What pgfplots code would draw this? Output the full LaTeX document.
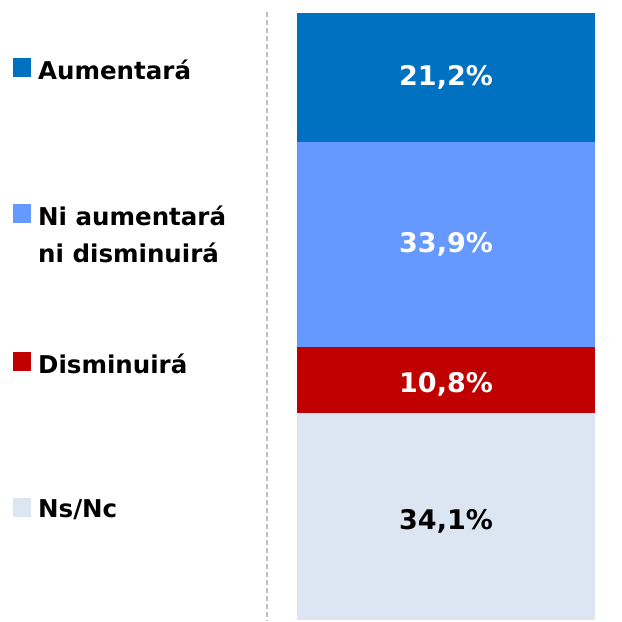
\documentclass[border=0pt]{standalone}
\usepackage{fontspec}
\setmainfont{DejaVu Sans}
\usepackage{pgfplots}
\pgfplotsset{compat=1.18}
\definecolor{aumC}{HTML}{0070C0}
\definecolor{niC}{HTML}{6699FF}
\definecolor{disC}{HTML}{C00000}
\definecolor{nsC}{HTML}{DCE6F2}
\begin{document}
\begin{tikzpicture}[x=1pt,y=1pt]
\path[use as bounding box] (0,0) rectangle (622,-622);
% separator
\draw[black!25, line width=1.6pt, dash pattern=on 5pt off 3pt] (267,-12) -- (267,-621);
\begin{axis}[
    at={(297pt,-620pt)}, anchor=south west,
    scale only axis, width=298pt, height=607pt,
    xmin=0, xmax=1, ymin=0, ymax=100,
    hide axis, clip=false,
    ybar stacked, bar width=1,
    nodes near coords style={font=\bfseries\fontsize{27}{30}\selectfont, anchor=center},
  ]
  % stacked labels come out centred in each segment
  \addplot[fill=nsC, draw=none, nodes near coords={34,1\%},
    every node near coord/.append style={black, yshift=-5pt}] coordinates {(0.5,34.1)};
  \addplot[fill=disC, draw=none, nodes near coords={10,8\%},
    every node near coord/.append style={white, yshift=-4pt}] coordinates {(0.5,10.8)};
  \addplot[fill=niC, draw=none, nodes near coords={33,9\%},
    every node near coord/.append style={white}] coordinates {(0.5,33.9)};
  \addplot[fill=aumC, draw=none, nodes near coords={21,2\%},
    every node near coord/.append style={white}] coordinates {(0.5,21.2)};
\end{axis}
% legend
\begin{scope}[every node/.style={font=\bfseries\fontsize{24.5}{30}\selectfont, anchor=base west, inner sep=0pt}]
  \fill[aumC] (13,-58) rectangle (31,-77);
  \node at (38,-79) {Aumentará};
  \fill[niC] (13,-204) rectangle (31,-223);
  \node at (38,-225) {Ni aumentará};
  \node at (38,-262) {ni disminuirá};
  \fill[disC] (13,-352) rectangle (31,-371);
  \node at (38,-373) {Disminuirá};
  \fill[nsC] (13,-498) rectangle (31,-517);
  \node at (38,-517) {Ns/Nc};
\end{scope}
\end{tikzpicture}
\end{document}
